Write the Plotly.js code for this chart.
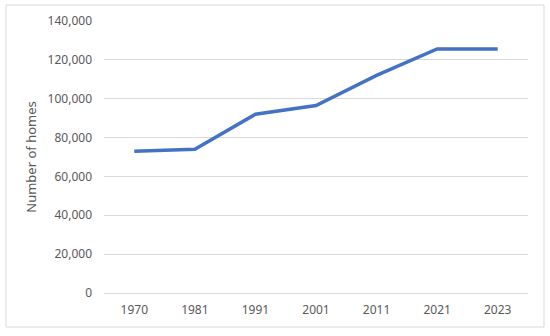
<!DOCTYPE html>
<html>
<head>
<meta charset="utf-8">
<script src="https://cdn.plot.ly/plotly-3.0.1.min.js"></script>
<style>
  html, body { margin: 0; padding: 0; background: #ffffff; }
  #chart { width: 550px; height: 336px; }
</style>
</head>
<body>
<div id="chart"></div>
<script>
const years = ["1970", "1981", "1991", "2001", "2011", "2021", "2023"];
const homes = [73000, 74000, 92000, 96500, 112000, 125600, 125600];
const yTickVals = [0, 20000, 40000, 60000, 80000, 100000, 120000, 140000];
const yTickText = ["0", "20,000", "40,000", "60,000", "80,000", "100,000", "120,000", "140,000"];

const trace = {
  x: years,
  y: homes,
  type: "scatter",
  mode: "lines",
  line: { color: "#4472C4", width: 3.5 },
  hoverinfo: "skip"
};

const layout = {
  width: 550,
  height: 336,
  margin: { l: 104, r: 22, t: 21, b: 43 },
  paper_bgcolor: "#ffffff",
  plot_bgcolor: "#ffffff",
  showlegend: false,
  font: { family: "Noto Sans, DejaVu Sans, sans-serif", size: 12, color: "#595959" },
  xaxis: {
    type: "category",
    range: [-0.5, 6.5],
    showgrid: false,
    zeroline: false,
    showline: false,
    ticks: "",
    ticklabelstandoff: 8,
    tickfont: { size: 12, color: "#595959" },
    fixedrange: true
  },
  yaxis: {
    range: [0, 140000],
    tickvals: yTickVals,
    ticktext: yTickText,
    showgrid: true,
    gridcolor: "#d9d9d9",
    gridwidth: 1,
    zeroline: true,
    zerolinecolor: "#d9d9d9",
    zerolinewidth: 1,
    showline: false,
    ticks: "",
    ticklabelstandoff: 11,
    tickfont: { size: 12, color: "#595959" },
    title: { text: "Number of homes", font: { size: 13, color: "#595959" }, standoff: 8 },
    automargin: false,
    fixedrange: true
  },
  shapes: [{
    type: "rect",
    xref: "paper", yref: "paper",
    x0: (6 - 104) / 424, x1: (544 - 104) / 424,
    y0: (293 - 327) / 272, y1: (293 - 5) / 272,
    line: { color: "#d9d9d9", width: 1 },
    fillcolor: "rgba(0,0,0,0)",
    layer: "below"
  }]
};

Plotly.newPlot("chart", [trace], layout, { displayModeBar: false, staticPlot: true });
</script>
</body>
</html>
